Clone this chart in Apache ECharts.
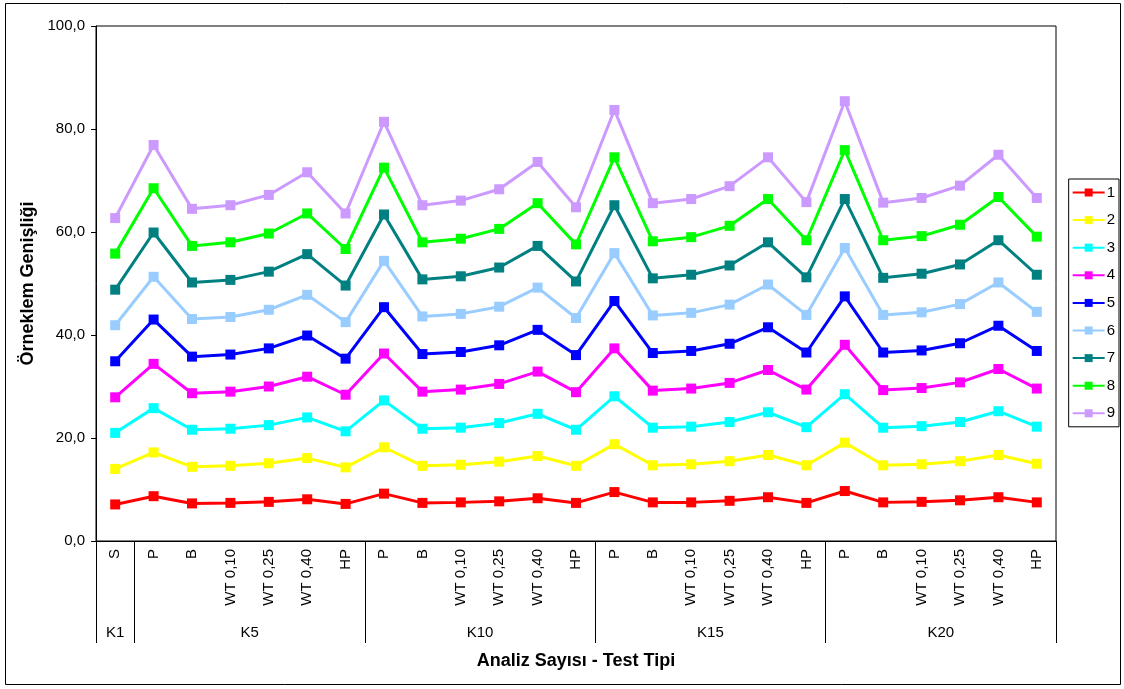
<!DOCTYPE html>
<html>
<head>
<meta charset="utf-8">
<script src="https://cdn.jsdelivr.net/npm/echarts@6/dist/echarts.min.js"></script>
<style>
  html, body { margin: 0; padding: 0; background: #fff; }
  #chart { width: 1124px; height: 689px; }
</style>
</head>
<body>
<div id="chart"></div>
<script>
// Analysis counts (outer axis level) and the test types run under each
const groupNames = ['K1', 'K5', 'K10', 'K15', 'K20'];
const testTypes = ['P', 'B', 'WT 0,10', 'WT 0,25', 'WT 0,40', 'HP'];
const groupTests = [['S'], testTypes, testTypes, testTypes, testTypes];

const seriesNames = ['1', '2', '3', '4', '5', '6', '7', '8', '9'];
const seriesColors = ['#FF0000', '#FFFF00', '#00FFFF', '#FF00FF', '#0000FF',
                      '#99CCFF', '#008080', '#00FF00', '#CC99FF'];

// Sample width per test, in category order
const s1 = [7.1, 8.7, 7.3, 7.4, 7.6, 8.1, 7.2, 9.2, 7.4, 7.5, 7.7, 8.3, 7.4, 9.5, 7.5, 7.5, 7.8, 8.5, 7.4, 9.7, 7.5, 7.6, 7.9, 8.5, 7.5];
const s2 = [14.0, 17.2, 14.4, 14.6, 15.1, 16.1, 14.3, 18.2, 14.6, 14.8, 15.4, 16.5, 14.6, 18.8, 14.7, 14.9, 15.5, 16.7, 14.7, 19.1, 14.7, 14.9, 15.5, 16.7, 15.0];
const s3 = [21.0, 25.8, 21.6, 21.8, 22.5, 24.0, 21.3, 27.3, 21.8, 22.0, 22.9, 24.7, 21.6, 28.1, 22.0, 22.2, 23.1, 25.0, 22.1, 28.5, 22.0, 22.3, 23.1, 25.2, 22.2];
const s4 = [27.9, 34.4, 28.7, 29.0, 30.0, 31.9, 28.4, 36.4, 29.0, 29.4, 30.5, 32.9, 28.9, 37.4, 29.2, 29.6, 30.7, 33.2, 29.4, 38.1, 29.3, 29.7, 30.8, 33.4, 29.6];
const s5 = [34.9, 43.0, 35.8, 36.2, 37.4, 39.9, 35.4, 45.4, 36.3, 36.7, 38.0, 41.0, 36.1, 46.6, 36.5, 36.9, 38.3, 41.5, 36.6, 47.5, 36.6, 37.0, 38.4, 41.8, 36.9];
const s6 = [41.9, 51.3, 43.1, 43.5, 44.9, 47.8, 42.5, 54.4, 43.6, 44.1, 45.5, 49.2, 43.3, 55.9, 43.8, 44.3, 45.9, 49.8, 43.9, 56.9, 43.9, 44.4, 46.0, 50.2, 44.5];
const s7 = [48.8, 59.9, 50.2, 50.7, 52.3, 55.7, 49.6, 63.4, 50.8, 51.4, 53.1, 57.3, 50.4, 65.2, 51.0, 51.7, 53.5, 58.0, 51.2, 66.4, 51.1, 51.9, 53.7, 58.4, 51.7];
const s8 = [55.8, 68.5, 57.3, 58.0, 59.7, 63.6, 56.7, 72.5, 58.0, 58.7, 60.6, 65.6, 57.6, 74.5, 58.2, 59.0, 61.2, 66.4, 58.4, 75.9, 58.4, 59.2, 61.4, 66.8, 59.1];
const s9 = [62.7, 76.9, 64.5, 65.2, 67.2, 71.6, 63.6, 81.4, 65.2, 66.1, 68.3, 73.6, 64.8, 83.7, 65.6, 66.4, 68.9, 74.5, 65.8, 85.4, 65.7, 66.6, 69.0, 75.0, 66.6];
const seriesValues = [s1, s2, s3, s4, s5, s6, s7, s8, s9];

const yTicks = [0, 20, 40, 60, 80, 100];

// Flatten the two-level axis into categories plus group boundaries/centres
const categories = [];
const groupBounds = [0];
const groupCenters = [];
groupTests.forEach(function (tests) {
  const start = categories.length;
  tests.forEach(function (t) { categories.push(t); });
  groupBounds.push(categories.length);
  groupCenters.push((start + categories.length) / 2);
});

const FONT = "'Liberation Sans', Arial, sans-serif";
const fmtComma = function (v) { return v.toFixed(1).replace('.', ','); };

const chart = echarts.init(document.getElementById('chart'), null, { renderer: 'canvas' });

chart.setOption({
  animation: false,
  backgroundColor: '#fff',
  textStyle: { fontFamily: FONT, color: '#000' },
  graphic: [{
    type: 'rect',
    shape: { x: 5.5, y: 3.5, width: 1115, height: 681 },
    style: { fill: 'none', stroke: '#000', lineWidth: 1 },
    silent: true
  }],
  grid: {
    left: 96, top: 26, right: 68, bottom: 148,
    show: true, borderColor: '#000', borderWidth: 1, backgroundColor: '#fff'
  },
  legend: {
    orient: 'vertical',
    right: 5, top: 179,
    padding: [6, 4, 6, 3],
    itemWidth: 32, itemHeight: 10, itemGap: 12.6,
    borderColor: '#000', borderWidth: 1,
    textStyle: { fontFamily: FONT, fontSize: 15, color: '#000', padding: [0, 0, 0, -3] },
    data: seriesNames
  },
  xAxis: [{
    type: 'category',
    data: categories,
    boundaryGap: true,
    position: 'bottom',
    axisLine: { lineStyle: { color: '#000', width: 1 } },
    axisTick: { interval: 0, length: 71, lineStyle: { color: '#000', width: 1 } },
    axisLabel: {
      interval: 0, rotate: 90, margin: 8,
      fontFamily: FONT, fontSize: 15, color: '#000'
    },
    splitLine: { show: false },
    name: 'Analiz Sayısı - Test Tipi',
    nameLocation: 'middle',
    nameGap: 111,
    nameTextStyle: { fontFamily: FONT, fontSize: 18, fontWeight: 'bold', color: '#000' }
  }, {
    type: 'value',
    min: 0, max: categories.length,
    position: 'bottom',
    axisLine: { show: false },
    axisTick: {
      show: true, length: 102, customValues: groupBounds,
      lineStyle: { color: '#000', width: 1 }
    },
    axisLabel: {
      show: true, margin: 84, customValues: groupCenters,
      fontFamily: FONT, fontSize: 15, color: '#000',
      formatter: function (v) {
        const i = groupCenters.indexOf(v);
        return i >= 0 ? groupNames[i] : '';
      }
    },
    splitLine: { show: false }
  }],
  yAxis: {
    type: 'value',
    min: yTicks[0], max: yTicks[yTicks.length - 1], interval: yTicks[1] - yTicks[0],
    axisLine: { show: true, lineStyle: { color: '#000', width: 1 } },
    axisTick: { show: true, length: 5, lineStyle: { color: '#000' } },
    axisLabel: { margin: 11, fontFamily: FONT, fontSize: 15, color: '#000', formatter: fmtComma },
    splitLine: { show: false },
    name: 'Örneklem Genişliği',
    nameLocation: 'middle',
    nameGap: 57,
    nameTextStyle: { fontFamily: FONT, fontSize: 18, fontWeight: 'bold', color: '#000' }
  },
  series: seriesNames.map(function (name, i) {
    return {
      name: name,
      type: 'line',
      xAxisIndex: 0,
      data: seriesValues[i],
      symbol: 'rect',
      symbolSize: 10,
      showAllSymbol: true,
      lineStyle: { color: seriesColors[i], width: 3 },
      itemStyle: { color: seriesColors[i], borderWidth: 0 },
      emphasis: { disabled: true }
    };
  })
});
</script>
</body>
</html>
